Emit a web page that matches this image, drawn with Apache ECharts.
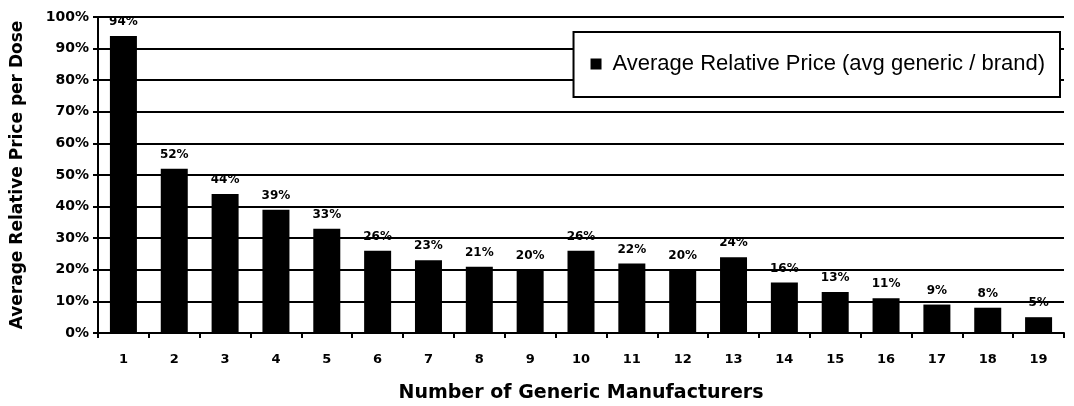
<!DOCTYPE html>
<html>
<head>
<meta charset="utf-8">
<script src="https://cdn.jsdelivr.net/npm/echarts@6/dist/echarts.min.js"></script>
<style>
html,body{margin:0;padding:0;background:#fff;}
#chart{width:1074px;height:406px;}
</style>
</head>
<body>
<div id="chart"></div>
<script>
var categories = ['1','2','3','4','5','6','7','8','9','10','11','12','13','14','15','16','17','18','19'];
var values = [94, 52, 44, 39, 33, 26, 23, 21, 20, 26, 22, 20, 24, 16, 13, 11, 9, 8, 5];
var seriesName = 'Average Relative Price (avg generic / brand)';
var xTitle = 'Number of Generic Manufacturers';
var yTitle = 'Average Relative Price per Dose';

var font = '"Liberation Sans", Arial, sans-serif';
var boldFont = '"DejaVu Sans", Verdana, sans-serif';
var chart = echarts.init(document.getElementById('chart'));
chart.setOption({
  animation: false,
  backgroundColor: '#fff',
  grid: {left: 98, right: 10, top: 17, bottom: 73, outerBoundsMode: 'none', containLabel: false},
  legend: {
    show: true,
    right: 14, top: 32,
    padding: [21, 15, 22, 17],
    backgroundColor: '#fff',
    borderColor: '#000', borderWidth: 2,
    itemWidth: 11, itemHeight: 11, itemGap: 12,
    textStyle: {color: '#000', fontSize: 22, fontFamily: font, padding: [0, 0, 0, 6]},
    data: [{name: seriesName, icon: 'rect'}]
  },
  xAxis: {
    type: 'category',
    data: categories,
    name: xTitle,
    nameLocation: 'middle',
    nameGap: 51,
    nameTextStyle: {color: '#000', fontSize: 19, fontWeight: 'bold', fontFamily: boldFont},
    axisLine: {lineStyle: {color: '#000', width: 2}},
    axisTick: {show: true, length: 5, lineStyle: {color: '#000', width: 2}},
    axisLabel: {color: '#000', fontSize: 13, fontWeight: 'bold', fontFamily: boldFont, margin: 20}
  },
  yAxis: {
    type: 'value',
    min: 0, max: 100, interval: 10,
    name: yTitle,
    nameLocation: 'middle',
    nameGap: 72,
    nameTextStyle: {color: '#000', fontSize: 17, fontWeight: 'bold', fontFamily: boldFont},
    axisLine: {show: true, lineStyle: {color: '#000', width: 2}},
    axisTick: {show: true, length: 5, lineStyle: {color: '#000', width: 2}},
    axisLabel: {color: '#000', fontSize: 14, fontWeight: 'bold', fontFamily: boldFont, margin: 9,
      formatter: function (v) { return v + '%'; }},
    splitLine: {show: true, lineStyle: {color: '#000', width: 2}}
  },
  series: [{
    name: seriesName,
    type: 'bar',
    data: values,
    barWidth: 27,
    itemStyle: {color: '#000'},
    label: {
      show: true, position: 'top', distance: 8,
      color: '#000', fontSize: 12, fontWeight: 'bold', fontFamily: boldFont,
      formatter: function (p) { return p.value + '%'; }
    }
  }]
});
</script>
</body>
</html>
